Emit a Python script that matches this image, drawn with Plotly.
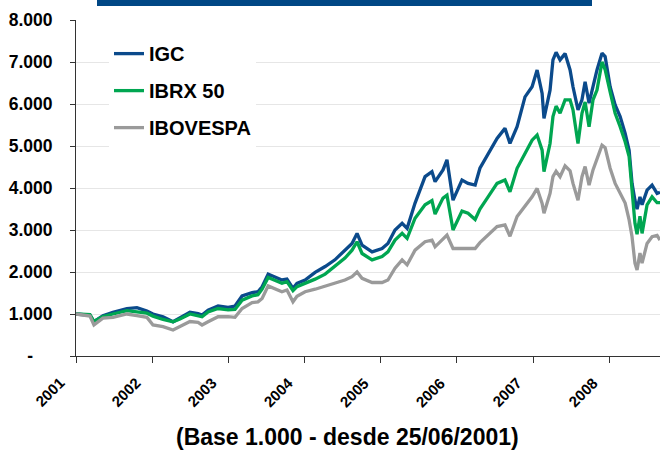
import plotly.graph_objects as go

dates = [
"2001-06-25","2001-08-31","2001-09-19","2001-11-01","2001-12-19",
"2002-02-24","2002-04-13","2002-05-31","2002-06-29","2002-08-16",
"2002-10-03","2002-11-05","2002-12-23","2003-01-31","2003-02-19",
"2003-03-20","2003-05-07","2003-06-24","2003-07-27","2003-08-30",
"2003-10-17","2003-11-14","2003-12-04","2004-01-02","2004-02-04",
"2004-03-08","2004-04-01","2004-04-30","2004-05-19","2004-06-27",
"2004-08-14","2004-10-01","2004-11-17","2005-01-04","2005-02-07",
"2005-03-03","2005-03-27","2005-05-14","2005-07-01","2005-07-29",
"2005-09-01","2005-10-05","2005-10-29","2005-12-06","2006-01-23",
"2006-02-25","2006-03-12","2006-04-19","2006-05-08","2006-06-06",
"2006-07-19","2006-08-17","2006-09-20","2006-10-13","2006-11-21",
"2007-01-03","2007-02-10","2007-03-06","2007-04-09","2007-05-17",
"2007-06-20","2007-07-14","2007-08-07","2007-08-16","2007-09-14",
"2007-09-28","2007-10-13","2007-11-01","2007-11-25","2007-12-19",
"2008-01-02","2008-01-26","2008-02-14","2008-02-29","2008-03-19",
"2008-04-07","2008-04-26","2008-05-20","2008-06-04","2008-06-28",
"2008-07-22","2008-08-15","2008-09-08","2008-09-27","2008-10-11",
"2008-10-25","2008-11-04","2008-11-18","2008-11-28","2008-12-22",
"2009-01-15","2009-02-08","2009-02-22"]

igc = [
1000, 970, 820, 960, 1040,
1130, 1150, 1070, 1000, 935,
815, 900, 1040, 1010, 976,
1090, 1190, 1160, 1190, 1430,
1510, 1530, 1650, 1950, 1890,
1810, 1830, 1610, 1730, 1810,
1990, 2130, 2290, 2520, 2680,
2920, 2640, 2480, 2560, 2680,
3000, 3160, 3040, 3640, 4270,
4390, 4150, 4430, 4670, 3710,
4190, 4110, 4070, 4470, 4790,
5180, 5420, 5060, 5460, 6170,
6410, 6810, 6250, 5660, 6330,
7050, 7230, 7050, 7200, 6810,
6410, 5860, 6100, 6530, 6020,
6410, 6810, 7210, 7130, 6410,
5980, 5700, 5300, 4900, 4110,
3710, 3500, 3790, 3600, 3950,
4070, 3870, 3900]

ibrx50 = [
1000, 985, 820, 940, 1000,
1080, 1050, 1020, 950, 870,
815, 880, 1000, 950, 935,
1050, 1130, 1100, 1110, 1330,
1430, 1460, 1590, 1870, 1810,
1730, 1770, 1555, 1650, 1730,
1830, 1950, 2130, 2330, 2520,
2720, 2440, 2290, 2370, 2480,
2760, 2920, 2800, 3280, 3600,
3700, 3380, 3760, 3830, 3000,
3450, 3400, 3250, 3500, 3790,
4110, 4190, 3910, 4470, 4830,
5140, 5260, 4900, 4390, 5060,
5700, 5950, 5780, 6100, 6100,
5860, 5060, 5780, 6050, 5460,
6100, 6330, 7000, 6820, 6290,
5780, 5460, 5100, 4750, 3960,
3160, 2900, 3330, 2920, 3600,
3790, 3650, 3650]

ibovespa = [
1000, 950, 740, 900, 920,
1000, 960, 920, 740, 700,
620, 700, 820, 800, 738,
817, 935, 935, 920, 1130,
1270, 1290, 1370, 1670, 1610,
1530, 1570, 1290, 1420, 1530,
1590, 1660, 1730, 1810, 1890,
2000, 1850, 1750, 1750, 1810,
2090, 2290, 2170, 2520, 2720,
2760, 2600, 2770, 2880, 2560,
2560, 2560, 2560, 2700, 2880,
3080, 3120, 2850, 3320, 3560,
3790, 3990, 3630, 3400, 3870,
4270, 4400, 4270, 4530, 4410,
4110, 3710, 4270, 4510, 4070,
4430, 4670, 5020, 4960, 4470,
4110, 3870, 3640, 3240, 2840,
2210, 2050, 2450, 2210, 2680,
2840, 2870, 2760]

series_names = ["IGC", "IBRX 50", "IBOVESPA"]
series_colors = ["#0B4A8B", "#00A651", "#9A9A9A"]

x_tick_dates = ["2001-06-25","2002-06-25","2003-06-25","2004-06-25",
                "2005-06-25","2006-06-25","2007-06-25","2008-06-25"]
x_tick_labels = ["2001","2002","2003","2004","2005","2006","2007","2008"]
y_tick_values = [0,1000,2000,3000,4000,5000,6000,7000,8000]
y_tick_labels = ["-\u00a0\u00a0\u00a0\u00a0","1.000","2.000","3.000","4.000",
                 "5.000","6.000","7.000","8.000"]
x_range = ["2001-06-25", "2009-02-22"]
subtitle = "(Base 1.000 - desde 25/06/2001)"

FONT = "Liberation Sans, Arial, sans-serif"

fig = go.Figure()
for i, (name, vals) in enumerate(zip(series_names, [igc, ibrx50, ibovespa])):
    fig.add_trace(go.Scatter(x=dates, y=vals, mode="lines",
                             name="<b>%s</b>" % name,
                             legendgroup=name,
                             line=dict(color=series_colors[i], width=3.3)))

# rotated year labels placed at the axis ticks
year_labels = [dict(text="<b>%s</b>" % lab, x=d, xref="x", yref="paper",
                    y=(356 - 392) / 336, xshift=-27, textangle=-45,
                    xanchor="center", yanchor="middle", showarrow=False,
                    font=dict(size=15, family=FONT, color="black"))
               for d, lab in zip(x_tick_dates, x_tick_labels)]

fig.update_layout(
    width=660, height=450,
    margin=dict(l=76, r=0, t=20, b=94, autoexpand=False),
    paper_bgcolor="white", plot_bgcolor="white",
    font=dict(family=FONT, color="black"),
    showlegend=True,
    legend=dict(x=0.0565, y=0.958, xanchor="left", yanchor="top",
                bgcolor="white", borderwidth=0, tracegroupgap=8,
                font=dict(size=20, family=FONT, color="black"),
                itemwidth=30),
    xaxis=dict(type="date", range=x_range, tickmode="array",
               tickvals=x_tick_dates, showticklabels=False,
               showgrid=False, showline=True,
               linecolor="#333333", linewidth=1, ticks="outside",
               ticklen=6, tickcolor="#333333",
               zeroline=False, automargin=False),
    yaxis=dict(range=[0, 8000], tickmode="array", tickvals=y_tick_values,
               ticktext=["<b>%s</b>" % t for t in y_tick_labels],
               showgrid=True, gridcolor="#E6E6E6",
               showline=True, linecolor="#333333", linewidth=1,
               ticks="outside", ticklen=5, tickcolor="#333333",
               tickfont=dict(size=17.5, family=FONT, color="black"),
               ticklabelstandoff=14, zeroline=False, automargin=False),
    shapes=[dict(type="rect", xref="paper", yref="paper",
                 x0=(97 - 76) / 584, x1=(592 - 76) / 584,
                 y0=(356 - 6) / 336, y1=(356 + 4) / 336,
                 fillcolor="#004785", line=dict(width=0), layer="above")],
    annotations=year_labels + [
        dict(text="<b>" + subtitle + "</b>", xref="paper", yref="paper",
             x=(347 - 76) / 584, y=(356 - 437) / 336,
             xanchor="center", yanchor="middle",
             showarrow=False,
             font=dict(size=23, family=FONT, color="black"))],
)

fig.write_html("out.html", config={"displayModeBar": False},
               post_script="document.body.style.margin='0';document.body.style.overflow='hidden';")
